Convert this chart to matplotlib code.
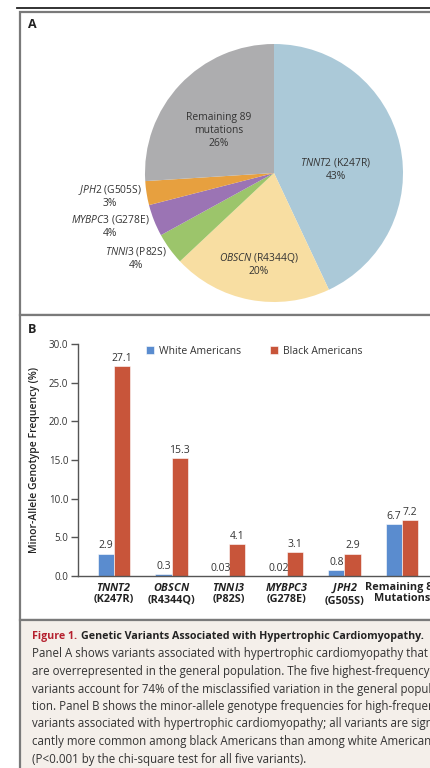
import matplotlib
matplotlib.use("Agg")
import matplotlib.pyplot as plt
import numpy as np
from matplotlib.patches import Rectangle
from matplotlib.lines import Line2D

FONT = 'Open Sans'
plt.rcParams['font.family'] = [FONT, 'DejaVu Sans']
plt.rcParams['mathtext.fontset'] = 'custom'
plt.rcParams['mathtext.rm'] = FONT
plt.rcParams['mathtext.it'] = FONT + ':italic'
plt.rcParams['mathtext.bf'] = FONT + ':bold'
plt.rcParams['mathtext.bfit'] = FONT + ':bold:italic'

# ---------------- data ----------------
pie_genes = ['TNNT2', 'OBSCN', 'TNNI3', 'MYBPC3', 'JPH2', 'Remaining 89']
pie_variants = ['K247R', 'R4344Q', 'P82S', 'G278E', 'G505S', 'mutations']
pie_pct = [43, 20, 4, 4, 3, 26]
pie_colors = ['#abc9d8', '#f8dea2', '#9cc56b', '#9b74b4', '#e7a03f', '#adadaf']

bar_genes = ['TNNT2', 'OBSCN', 'TNNI3', 'MYBPC3', 'JPH2', 'Remaining 89']
bar_variants = ['K247R', 'R4344Q', 'P82S', 'G278E', 'G505S', 'Mutations']
white_freq = [2.9, 0.3, 0.03, 0.02, 0.8, 6.7]
black_freq = [27.1, 15.3, 4.1, 3.1, 2.9, 7.2]
white_labels = ['2.9', '0.3', '0.03', '0.02', '0.8', '6.7']
black_labels = ['27.1', '15.3', '4.1', '3.1', '2.9', '7.2']
series_names = ['White Americans', 'Black Americans']
series_colors = ['#5a8ccf', '#c8553a']

caption_title = 'Genetic Variants Associated with Hypertrophic Cardiomyopathy.'
caption_lines = [
    'Panel A shows variants associated with hypertrophic cardiomyopathy that',
    'are overrepresented in the general population. The five highest-frequency',
    'variants account for 74% of the misclassified variation in the general popula-',
    'tion. Panel B shows the minor-allele genotype frequencies for high-frequency',
    'variants associated with hypertrophic cardiomyopathy; all variants are signifi-',
    'cantly more common among black Americans than among white Americans',
    '(P<0.001 by the chi-square test for all five variants).',
]

W, H = 431, 768
TXT = '#333333'
fig = plt.figure(figsize=(W / 100, H / 100), dpi=100)


def fx(x):
    return x / W


def fy(y):
    return 1 - y / H


def axes_px(left, top, width, height):
    return fig.add_axes([fx(left), fy(top + height), width / W, height / H])


# frames (behind the axes)
fig.add_artist(Line2D([fx(17), fx(440)], [fy(8), fy(8)], color='#222222', lw=1.3, zorder=-5))
for top, bot, fc in [(12, 315, 'white'), (315, 620, 'white'), (620, 790, '#f4efea')]:
    fig.add_artist(Rectangle((fx(20), fy(bot)), fx(440) - fx(20), fy(top) - fy(bot),
                             transform=fig.transFigure, fc=fc, ec='#7a7a7a', lw=1.6,
                             zorder=-5))

fig.text(fx(28), fy(24), 'A', fontsize=9, fontweight='bold', color='#222222', va='center')
fig.text(fx(28), fy(329), 'B', fontsize=9, fontweight='bold', color='#222222', va='center')

# ---------------- panel A: pie ----------------
axp = axes_px(145, 44, 258, 258)
axp.pie(pie_pct, colors=pie_colors, startangle=90, counterclock=False,
        wedgeprops=dict(linewidth=0))
axp.set_xlim(-1, 1)
axp.set_ylim(-1, 1)
axp.set_aspect('equal')
axp.axis('off')

label_pos = [(0.48, 0.03), (-0.12, -0.705), (-1.07, -0.66),
             (-1.27, -0.41), (-1.27, -0.18), (-0.43, 0.33)]
for i, (g, v, p) in enumerate(zip(pie_genes, pie_variants, pie_pct)):
    if g.startswith('Remaining'):
        s = f'{g}\n{v}\n{p}%'
    else:
        s = f'$\\mathit{{{g}}}$ ({v})\n{p}%'
    axp.text(*label_pos[i], s, ha='center', va='center', fontsize=7.4,
             color=TXT, linespacing=1.2, clip_on=False)

# ---------------- panel B: bars ----------------
gap_px = 57.6
xmin, xmax = -0.625, 5.8
axb = axes_px(78, 344, (xmax - xmin) * gap_px, 232)
x = np.arange(len(bar_genes))
bw = 0.28
b1 = axb.bar(x - bw / 2, white_freq, bw, color=series_colors[0], label=series_names[0],
             edgecolor='white', linewidth=0.4)
b2 = axb.bar(x + bw / 2, black_freq, bw, color=series_colors[1], label=series_names[1],
             edgecolor='white', linewidth=0.4)
axb.bar_label(b1, labels=white_labels, padding=1.5, fontsize=7.5, color=TXT)
axb.bar_label(b2, labels=black_labels, padding=1.5, fontsize=7.5, color=TXT)

axb.set_xlim(xmin, xmax)
axb.set_ylim(0, 30)
yt = np.arange(0, 30.1, 5)
axb.set_yticks(yt)
axb.set_yticklabels([f'{v:.1f}' for v in yt], fontsize=7, color=TXT)
xt = []
for g, v in zip(bar_genes, bar_variants):
    if g.startswith('Remaining'):
        xt.append(f'{g}\n{v}')
    else:
        xt.append(f'$\\mathbfit{{{g}}}$\n({v})')
axb.set_xticks(x)
axb.set_xticklabels(xt, fontsize=7.8, fontweight='bold', color='#222222', linespacing=1.1)
axb.tick_params(axis='x', length=0, pad=4)
axb.tick_params(axis='y', length=5, width=1, color='#555555', pad=2)
for s in ['top', 'right']:
    axb.spines[s].set_visible(False)
for s in ['left', 'bottom']:
    axb.spines[s].set_color('#555555')
    axb.spines[s].set_linewidth(1)
axb.set_ylabel('Minor-Allele Genotype Frequency (%)', fontsize=7.5, color='#222222',
               fontweight='semibold', labelpad=6)
axb.legend(loc='center left', bbox_to_anchor=(0.172, 1.0 - 7 / 232), ncol=2, frameon=False,
           fontsize=7.5, handlelength=0.75, handleheight=0.75, handletextpad=0.5,
           columnspacing=2.8, labelcolor=TXT, borderaxespad=0)

# ---------------- caption ----------------
t1 = fig.text(fx(32), fy(636), 'Figure 1. ', fontsize=7.7, fontweight='bold',
              color='#b5202e', va='center')
fig.canvas.draw()
bb = t1.get_window_extent()
fig.text(bb.x1 / W + 1 / W, fy(636), caption_title, fontsize=7.7, fontweight='bold',
         color='#222222', va='center')
for i, line in enumerate(caption_lines):
    fig.text(fx(32), fy(648 + 17.5 * i + 6), line, fontsize=8.3, color=TXT, va='center')

fig.savefig('out.png', dpi=100)
